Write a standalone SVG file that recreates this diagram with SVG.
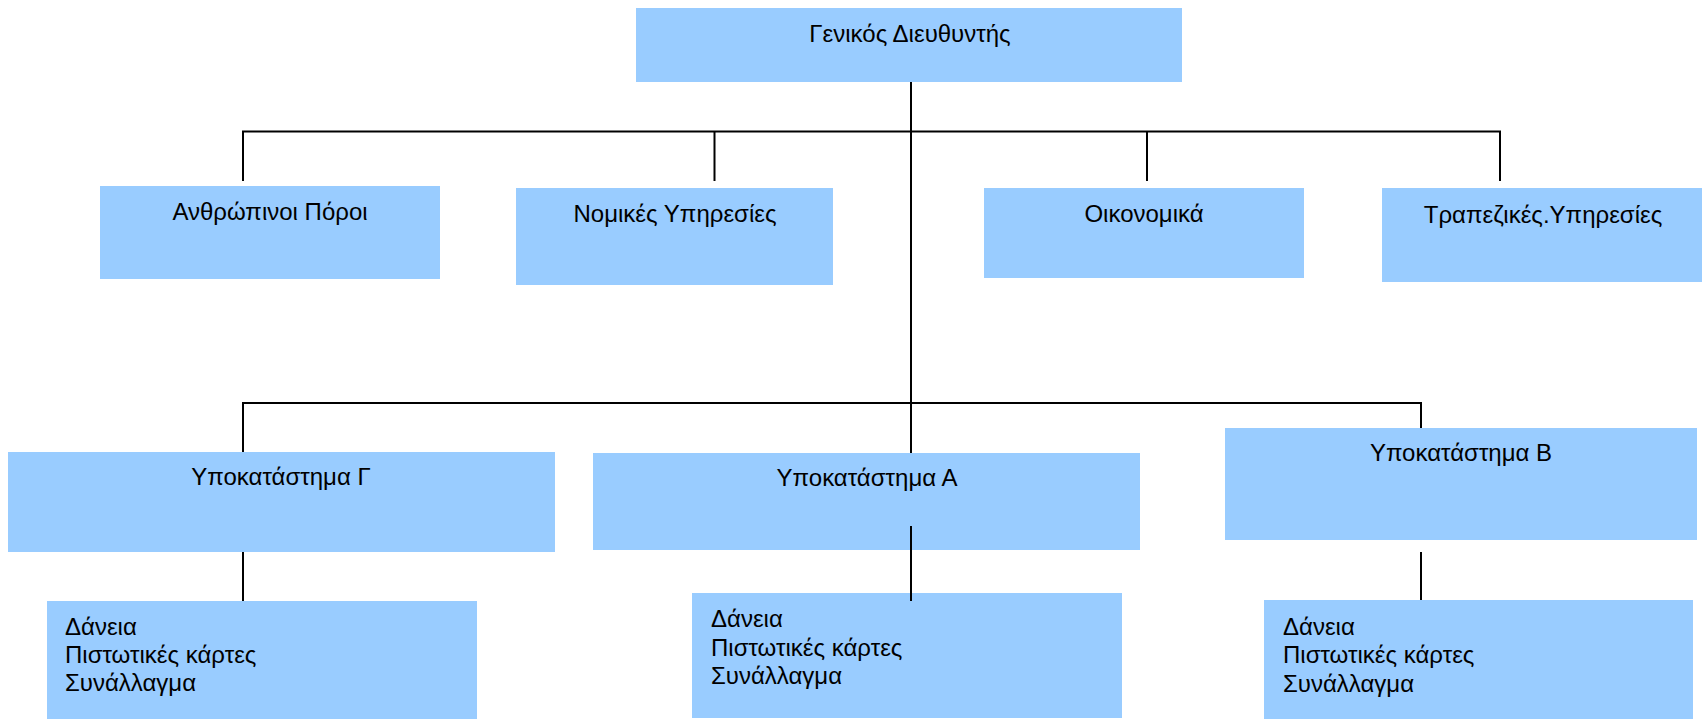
<svg xmlns="http://www.w3.org/2000/svg" width="1703" height="719" viewBox="0 0 1703 719">
  <style>
    .box { fill: #99ccff; stroke: none; }
    .lbl { font-family: "Liberation Sans", Arial, sans-serif; font-size: 24px; fill: #000000; }
    .mid { text-anchor: middle; }
    .wire { fill: none; stroke: #000000; stroke-width: 2; stroke-linejoin: miter; stroke-linecap: butt; }
  </style>
  <rect width="1703" height="719" fill="#ffffff"/>

  <!-- top level -->
  <g id="node-director">
    <rect class="box" x="636" y="8" width="546" height="74"/>
    <text class="lbl mid" x="910" y="42">Γενικός Διευθυντής</text>
  </g>

  <!-- staff departments -->
  <g id="node-hr">
    <rect class="box" x="100" y="186" width="340" height="93"/>
    <text class="lbl mid" x="270" y="220">Ανθρώπινοι Πόροι</text>
  </g>
  <g id="node-legal">
    <rect class="box" x="516" y="188" width="317" height="97"/>
    <text class="lbl mid" x="675" y="222">Νομικές Υπηρεσίες</text>
  </g>
  <g id="node-finance">
    <rect class="box" x="984" y="188" width="320" height="90"/>
    <text class="lbl mid" x="1144" y="222">Οικονομικά</text>
  </g>
  <g id="node-banking">
    <rect class="box" x="1382" y="188" width="320" height="94"/>
    <text class="lbl mid" x="1543" y="223">Τραπεζικές.Υπηρεσίες</text>
  </g>

  <!-- branches -->
  <g id="node-branch-c">
    <rect class="box" x="8" y="452" width="547" height="100"/>
    <text class="lbl mid" x="281" y="485">Υποκατάστημα Γ</text>
  </g>
  <g id="node-branch-a">
    <rect class="box" x="593" y="453" width="547" height="97"/>
    <text class="lbl mid" x="867" y="486">Υποκατάστημα Α</text>
  </g>
  <g id="node-branch-b">
    <rect class="box" x="1225" y="428" width="472" height="112"/>
    <text class="lbl mid" x="1461" y="461">Υποκατάστημα Β</text>
  </g>

  <!-- branch services -->
  <g id="node-services-c">
    <rect class="box" x="47" y="601" width="430" height="118"/>
    <text class="lbl" x="65" y="635">Δάνεια</text>
    <text class="lbl" x="65" y="663">Πιστωτικές κάρτες</text>
    <text class="lbl" x="65" y="691">Συνάλλαγμα</text>
  </g>
  <g id="node-services-a">
    <rect class="box" x="692" y="593" width="430" height="125"/>
    <text class="lbl" x="711" y="627">Δάνεια</text>
    <text class="lbl" x="711" y="656">Πιστωτικές κάρτες</text>
    <text class="lbl" x="711" y="684">Συνάλλαγμα</text>
  </g>
  <g id="node-services-b">
    <rect class="box" x="1264" y="600" width="429" height="119"/>
    <text class="lbl" x="1283" y="635">Δάνεια</text>
    <text class="lbl" x="1283" y="663">Πιστωτικές κάρτες</text>
    <text class="lbl" x="1283" y="692">Συνάλλαγμα</text>
  </g>

  <!-- connectors -->
  <g id="connectors">
    <path class="wire" d="M911 82 V453"/>
    <path class="wire" d="M243 181 V131.5 H1500 V181"/>
    <path class="wire" d="M714.5 131.5 V181"/>
    <path class="wire" d="M1147 131.5 V181"/>
    <path class="wire" d="M243 452 V403 H1421 V428"/>
    <path class="wire" d="M243 552 V601"/>
    <path class="wire" d="M911 526 V601"/>
    <path class="wire" d="M1421 552 V600"/>
  </g>
</svg>
